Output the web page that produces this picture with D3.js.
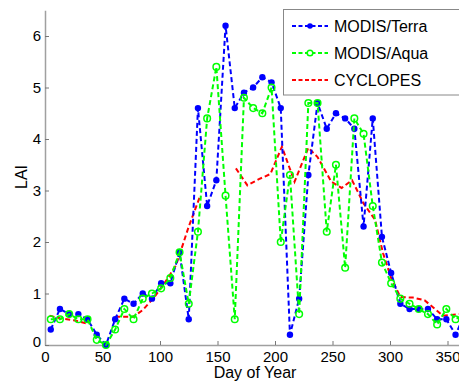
<!DOCTYPE html>
<html>
<head>
<meta charset="utf-8">
<script src="https://cdn.jsdelivr.net/npm/d3@7"></script>
<style>
  html, body { margin: 0; padding: 0; background: #fff; }
  svg { display: block; font-family: "Liberation Sans", Arial, sans-serif; }
</style>
</head>
<body>
<div id="chart"></div>
<script>
// Data (8-day MODIS composites, CYCLOPES curve with gaps)
const modisDays = [5, 13, 21, 29, 37, 45, 53, 61, 69, 77, 85, 93, 101, 109, 117, 125, 133, 141, 149, 157,
  165, 173, 181, 189, 197, 205, 213, 221, 229, 237, 245, 253, 261, 269, 277, 285, 293, 301, 309, 317,
  325, 333, 341, 349, 357, 365];
const terraLAI = [0.3, 0.7, 0.6, 0.6, 0.5, 0.2, 0.0, 0.5, 0.9, 0.8, 1.0, 0.9, 1.2, 1.2, 1.8, 0.5, 4.6, 2.7, 3.2, 6.2,
  4.6, 4.9, 5.0, 5.2, 5.1, 4.6, 0.2, 0.9, 3.3, 4.7, 4.2, 4.5, 4.4, 4.2, 2.3, 4.4, 2.1, 1.4, 0.8, 0.7,
  0.7, 0.7, 0.5, 0.5, 0.2, 0.6];
const aquaLAI = [0.5, 0.5, 0.6, 0.5, 0.5, 0.1, 0.0, 0.3, 0.7, 0.5, 0.9, 1.0, 1.1, 1.3, 1.8, 0.8, 2.2, 4.4, 5.4, 2.9,
  0.5, 4.8, 4.6, 4.5, 5.0, 2.0, 3.3, 0.6, 4.7, 4.7, 2.2, 3.5, 1.5, 4.4, 4.1, 2.7, 1.6, 1.2, 0.9, 0.8,
  0.7, 0.6, 0.4, 0.7, 0.5, 0.6];
// null = missing CYCLOPES value (line breaks)
const cyclopesDays = [4, 13, 25, 36, 48, 61, 77, 85, 94, 103, 114, 125, 135, 150, 166, 176, 186, 196, 206, 217,
  229, 237, 249, 258, 267, 277, 287, 294, 301, 309, 320, 330, 346, 360];
const cyclopesLAI = [0.57, 0.52, 0.48, 0.42, null, 0.55, 0.55, 0.68, 0.9, 1.17, 1.55, 2.3, 2.9, null, 3.43, 3.1, 3.22, 3.32, 3.85, 3.17,
  3.83, 3.65, 3.17, 3.05, 3.2, 2.75, 2.43, 1.78, 1.3, 0.93, 0.92, 0.87, 0.57, 0.6];

const xTicks = [0, 50, 100, 150, 200, 250, 300, 350];
const yTicks = [0, 1, 2, 3, 4, 5, 6];
const seriesNames = ['MODIS/Terra', 'MODIS/Aqua', 'CYCLOPES'];

const W = 459, H = 383;
const svg = d3.select('#chart').append('svg').attr('width', W).attr('height', H);

const x = d3.scaleLinear().domain([0, 400]).range([45, 505]);
const y = d3.scaleLinear().domain([0, 6.5]).range([345, 10.25]);

// axes (only left and bottom are visible in the picture)
const axisColor = '#a0a0a0';
const xAxis = svg.append('g').attr('transform', `translate(0,${y(0)})`)
  .call(d3.axisBottom(x).tickValues(xTicks).tickFormat(d3.format('d'))
    .tickSizeInner(-4).tickSizeOuter(0).tickPadding(6));
const yAxis = svg.append('g').attr('transform', `translate(${x(0)},0)`)
  .call(d3.axisLeft(y).tickValues(yTicks).tickFormat(d3.format('d'))
    .tickSizeInner(-4).tickSizeOuter(0).tickPadding(4));
[xAxis, yAxis].forEach(a => {
  a.select('.domain').attr('stroke', axisColor).attr('stroke-width', 1.5);
  a.selectAll('.tick line').attr('stroke', '#777').attr('stroke-width', 1);
  a.selectAll('.tick text').attr('fill', '#000').style('font-size', '15px');
});
yAxis.select('.tick text').attr('dy', '0.1em');

svg.append('text').attr('x', 255).attr('y', 378).attr('text-anchor', 'middle')
  .style('font-size', '16px').text('Day of Year');
svg.append('text').attr('transform', 'translate(27,177) rotate(-90)').attr('text-anchor', 'middle')
  .style('font-size', '16px').text('LAI');

const plot = svg.append('g');
const dash = '5,3';

function drawSeries(days, vals, color) {
  const pts = days.map((d, i) => ({ d, v: vals[i] }));
  const line = d3.line().defined(p => p.v != null).x(p => x(p.d)).y(p => y(p.v));
  plot.append('path').datum(pts).attr('d', line)
    .attr('fill', 'none').attr('stroke', color).attr('stroke-width', 2).attr('stroke-dasharray', dash);
  return pts;
}

drawSeries(cyclopesDays, cyclopesLAI, '#ff0000');
const terraPts = drawSeries(modisDays, terraLAI, '#0000ff');
plot.selectAll('.terra').data(terraPts).enter().append('circle')
  .attr('cx', p => x(p.d)).attr('cy', p => y(p.v)).attr('r', 3.2).attr('fill', '#0000ff');
const aquaPts = drawSeries(modisDays, aquaLAI, '#00ff00');
plot.selectAll('.aqua').data(aquaPts).enter().append('circle')
  .attr('cx', p => x(p.d)).attr('cy', p => y(p.v)).attr('r', 3.3)
  .attr('fill', 'none').attr('stroke', '#00ff00').attr('stroke-width', 1.5);

// legend
const legend = svg.append('g');
legend.append('rect').attr('x', 283.5).attr('y', 9.5).attr('width', 220).attr('height', 85.5)
  .attr('fill', '#fff').attr('stroke', '#888').attr('stroke-width', 1);
const legColors = ['#0000ff', '#00ff00', '#ff0000'];
seriesNames.forEach((name, i) => {
  const ly = 26 + i * 27;
  legend.append('line').attr('x1', 292).attr('x2', 328).attr('y1', ly).attr('y2', ly)
    .attr('stroke', legColors[i]).attr('stroke-width', 2).attr('stroke-dasharray', '4,2.5');
  if (i === 0) legend.append('circle').attr('cx', 310).attr('cy', ly).attr('r', 2.8).attr('fill', legColors[i]);
  if (i === 1) legend.append('circle').attr('cx', 310).attr('cy', ly).attr('r', 2.8)
    .attr('fill', '#fff').attr('stroke', legColors[i]).attr('stroke-width', 1.5);
  legend.append('text').attr('x', 334).attr('y', ly).attr('dy', '0.36em')
    .style('font-size', '16px').text(name);
});
</script>
</body>
</html>
